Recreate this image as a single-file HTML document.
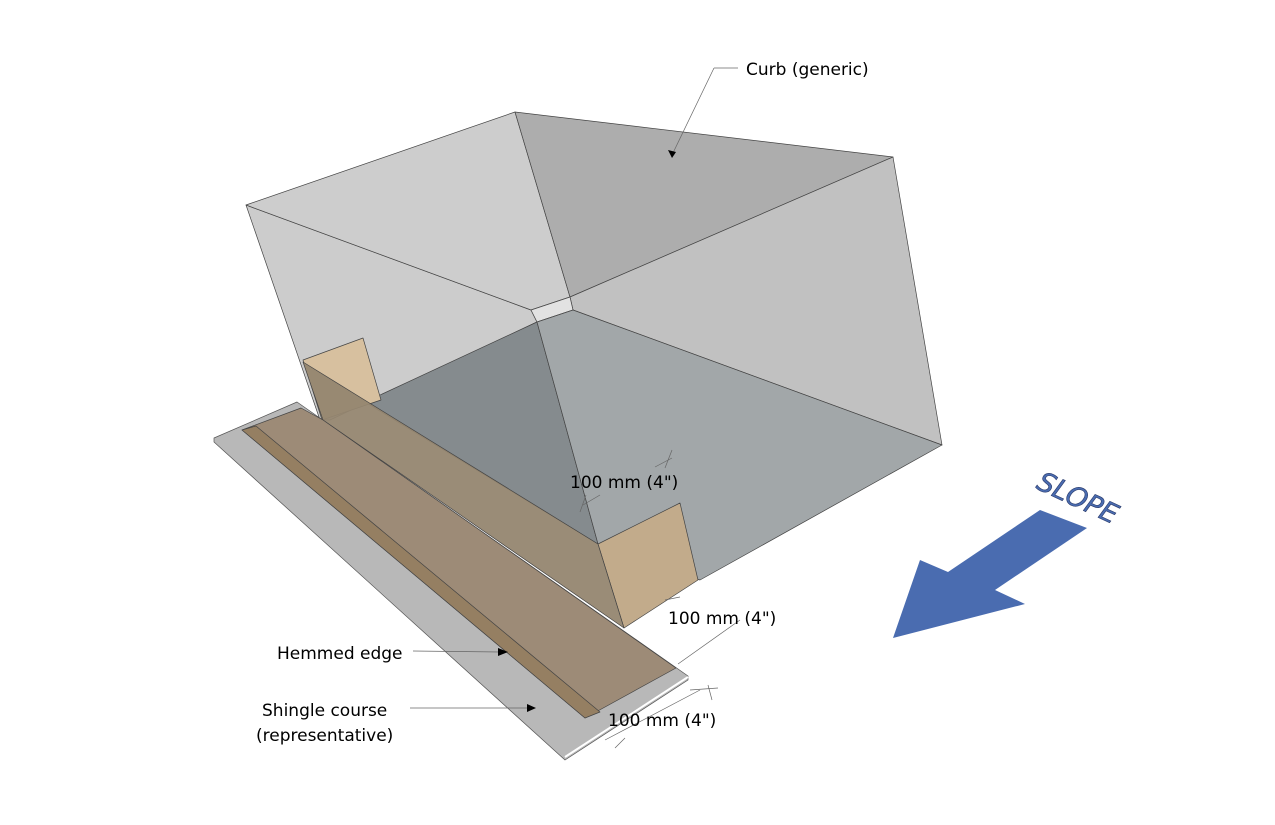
<!DOCTYPE html>
<html><head><style>html,body{margin:0;padding:0;background:#fff}svg{display:block}text{font-family:"DejaVu Sans","Liberation Sans",sans-serif;font-size:17px;fill:#000}</style></head>
<body>
<svg width="1275" height="825" viewBox="0 0 1275 825" xmlns="http://www.w3.org/2000/svg">
<g stroke="#444" stroke-width="0.7" stroke-linejoin="round">
<polygon points="246,205 531,310 537,322 330,420 320,420" fill="#cccccc"/>
<polygon points="246,205 515,112 570,297 531,310" fill="#cdcdcd"/>
<polygon points="515,112 893,157 570,297" fill="#adadad"/>
<polygon points="893,157 942,445 573,310 570,297" fill="#c1c1c1"/>
<polygon points="531,310 570,297 573,310 537,322" fill="#e2e2e2"/>
<polygon points="365,402 537,322 598,544 460,460" fill="#858b8e"/>
<polygon points="537,322 573,310 942,445 700,580 598,544" fill="#a2a7a9"/>
<polygon points="303,360 363,338 381,400 322,420" fill="#d7c09f"/>
<polygon points="598,544 680,503 698,580 624,628" fill="#c2ab8b"/>
<polygon points="214,438 297,402 688,676 688,680 565,760 214,442" fill="#b8b8b8" stroke="#555"/>
<polyline points="565,757 688,677" fill="none" stroke="#fff" stroke-width="2"/>
<polygon points="303,362 598,544 624,628 323,420" fill="#958670" fill-opacity="0.95"/>
<polygon points="242,430 301,408 323,420 676,668 585,718" fill="#9d8b77"/>
<polygon points="242,430 256,426 600,712 585,718" fill="#957f62"/>
</g>
<g stroke="#666" stroke-width="0.7" fill="none">
<polyline points="714,68 738,68"/><line x1="714" y1="68" x2="672" y2="155"/>
<line x1="413" y1="651" x2="500" y2="652"/>
<line x1="410" y1="708" x2="533" y2="708"/>
<line x1="583" y1="505" x2="600" y2="495"/><line x1="580" y1="512" x2="586" y2="495"/>
<line x1="655" y1="467" x2="672" y2="458"/><line x1="665" y1="468" x2="672" y2="450"/>
<line x1="678" y1="664" x2="740" y2="620"/><line x1="665" y1="600" x2="680" y2="597"/>
<line x1="690" y1="690" x2="718" y2="688"/><line x1="605" y1="740" x2="700" y2="690"/>
<line x1="615" y1="748" x2="625" y2="738"/><line x1="708" y1="685" x2="712" y2="700"/>
</g>
<polygon points="672,158 668,150 676,152" fill="#000"/>
<polygon points="508,652 498,648 498,656" fill="#000"/>
<polygon points="536,708 527,704 527,712" fill="#000"/>
<text x="746" y="75">Curb (generic)</text>
<text x="570" y="488">100 mm (4")</text>
<text x="668" y="624">100 mm (4")</text>
<text x="608" y="726">100 mm (4")</text>
<text x="277" y="659">Hemmed edge</text>
<text x="262" y="716">Shingle course</text>
<text x="256" y="741">(representative)</text>
<polygon points="893,638 920,560 948,572 1040,510 1087,528 995,590 1025,604" fill="#4a6cb0"/>
<text x="1035" y="488" transform="rotate(25 1035 488)" style="font-size:27px;font-style:italic;fill:#4a6cb0;stroke:#2a3a6a;stroke-width:0.6">SLOPE</text>
</svg>
</body></html>
